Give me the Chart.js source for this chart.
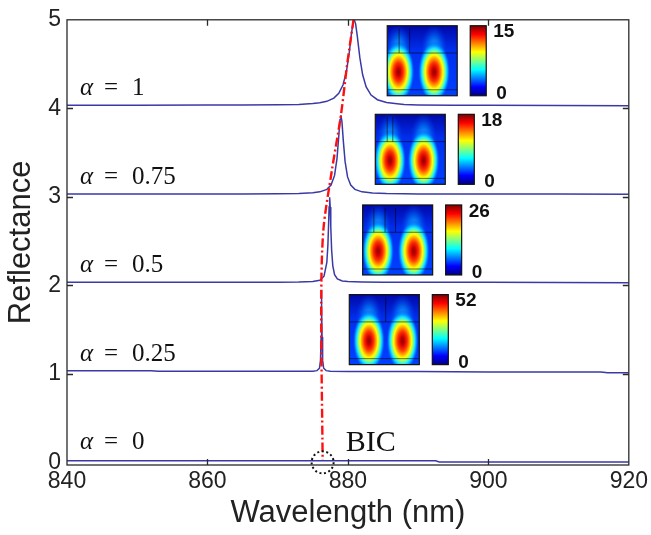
<!DOCTYPE html>
<html>
<head>
<meta charset="utf-8">
<script src="https://cdn.jsdelivr.net/npm/chart.js@4.4.1/dist/chart.umd.min.js"></script>
<style>
  html, body { margin: 0; padding: 0; background: #fff; }
</style>
</head>
<body>
<canvas id="reflChart" width="651" height="535"></canvas>
<script>
var xTicks = [840, 860, 880, 900, 920];
var yTicks = [0, 1, 2, 3, 4, 5];
var alphaLabels = ['1', '0.75', '0.5', '0.25', '0'];
var alphaOffsets = [4, 3, 2, 1, 0];

// alpha = 1
var lambda1 = [840, 850, 860, 865, 870, 873, 875, 876, 877, 878, 878.7, 879.3, 879.8, 880.2, 880.5, 880.75, 880.9, 881.1, 881.35, 881.7, 882.1, 882.6, 883.3, 884.2, 885.5, 887, 888, 890, 895, 900, 910, 920];
var refl1 = [4.035, 4.035, 4.036, 4.037, 4.04, 4.044, 4.053, 4.062, 4.079, 4.115, 4.169, 4.263, 4.419, 4.634, 4.84, 4.974, 5.0, 4.954, 4.806, 4.572, 4.379, 4.242, 4.15, 4.097, 4.066, 4.051, 4.042, 4.038, 4.035, 4.034, 4.033, 4.03];
// alpha = 0.75
var lambda2 = [840, 850, 860, 865, 870, 873, 875, 876, 877, 877.6, 878.1, 878.45, 878.7, 878.88, 879.0, 879.15, 879.35, 879.6, 879.95, 880.4, 881, 882, 883.5, 885.5, 888, 890, 895, 900, 910, 920];
var refl2 = [3.032, 3.032, 3.033, 3.033, 3.035, 3.038, 3.046, 3.056, 3.084, 3.133, 3.242, 3.435, 3.686, 3.874, 3.922, 3.849, 3.629, 3.397, 3.225, 3.133, 3.084, 3.056, 3.043, 3.037, 3.034, 3.033, 3.032, 3.032, 3.032, 3.03];
// alpha = 0.5
var lambda3 = [840, 850, 860, 865, 870, 873, 875, 876, 876.6, 877.0, 877.15, 877.25, 877.32, 877.4, 877.48, 877.56, 877.68, 877.85, 878.1, 878.5, 879.2, 880, 882, 885, 890, 900, 910, 920];
var refl3 = [2.035, 2.035, 2.035, 2.035, 2.036, 2.037, 2.043, 2.058, 2.103, 2.258, 2.454, 2.691, 2.884, 2.995, 2.884, 2.663, 2.402, 2.22, 2.121, 2.072, 2.049, 2.042, 2.038, 2.036, 2.035, 2.034, 2.033, 2.03];
// alpha = 0.25
var lambda4 = [840, 852, 853, 860, 870, 873, 875, 875.6, 875.95, 876.1, 876.18, 876.22, 876.25, 876.28, 876.32, 876.4, 876.55, 876.9, 877.5, 880, 890, 900, 916, 917, 920];
var refl4 = [1.034, 1.034, 1.028, 1.028, 1.028, 1.028, 1.03, 1.036, 1.063, 1.155, 1.417, 1.764, 1.948, 1.764, 1.417, 1.155, 1.063, 1.036, 1.03, 1.027, 1.025, 1.022, 1.02, 1.012, 1.012];
// alpha = 0 (BIC, no resonance)
var lambda5 = [840, 892.5, 893, 920];
var refl5 = [0.018, 0.018, 0.005, 0.005];

// red dash-dot guide through the peaks down to the BIC
var guideLambda = [880.8, 879.9, 879.0, 877.7, 876.5, 876.2, 876.4];
var guideRefl = [5.0, 4.5, 3.92, 3.29, 2.62, 1.8, 0.03];
var bicLambda = 876.4;
var bicRefl = 0;

// colorbar maxima of the field insets (top to bottom)
var fieldMax = [15, 18, 26, 52];

function zip(xs, ys) {
  return xs.map(function(x, i) { return { x: x, y: ys[i] }; });
}

var curveColor = '#3a3aa6';
var curves = [[lambda1, refl1], [lambda2, refl2], [lambda3, refl3], [lambda4, refl4], [lambda5, refl5]];
var datasets = [{
  data: zip(guideLambda, guideRefl),
  borderColor: '#ff1010',
  borderWidth: 2.4,
  borderDash: [9, 3, 2, 3],
  pointRadius: 0,
  showLine: true,
  tension: 0.3,
  order: 0
}];
curves.forEach(function(c) {
  datasets.push({
    data: zip(c[0], c[1]),
    borderColor: curveColor,
    borderWidth: 1.5,
    pointRadius: 0,
    showLine: true,
    tension: 0,
    order: 1
  });
});

// inset layout (anchor = top-left of the field map)
var insets = [
  { lambda: 885.6, refl: 4.933, lobes: [0.16, 0.67], cuts: [0.17, 0.32] },
  { lambda: 883.9, refl: 3.932, lobes: [0.21, 0.69], cuts: [0.17, 0.25] },
  { lambda: 882.1, refl: 2.908, lobes: [0.22, 0.73], cuts: [0.16, 0.32, 0.47] },
  { lambda: 880.2, refl: 1.895, lobes: [0.28, 0.76], cuts: [0.52] }
];

function ellipseGrad(ctx, cx, cy, rx, ry, stops) {
  ctx.save();
  ctx.translate(cx, cy);
  ctx.scale(rx, ry);
  var g = ctx.createRadialGradient(0, 0, 0, 0, 0, 1);
  stops.forEach(function(s) { g.addColorStop(s[0], s[1]); });
  ctx.fillStyle = g;
  ctx.beginPath();
  ctx.arc(0, 0, 1, 0, Math.PI * 2);
  ctx.fill();
  ctx.restore();
}

var lobeStops = [[0, '#8a0000'], [0.14, '#d00000'], [0.3, '#ff3000'], [0.44, '#ffa000'], [0.55, '#ffff00'],
  [0.65, '#a0ff60'], [0.75, '#20f0ff'], [0.86, '#0098ff'], [1, 'rgba(0,60,255,0)']];
var glowStops = [[0, 'rgba(60,200,255,0.95)'], [0.5, 'rgba(0,140,255,0.6)'], [1, 'rgba(0,60,255,0)']];

function drawInset(ctx, x, y, inset, maxVal) {
  var w = 70, h = 70;
  ctx.save();
  ctx.beginPath();
  ctx.rect(x, y, w, h);
  ctx.clip();
  var bg = ctx.createLinearGradient(0, y, 0, y + h);
  bg.addColorStop(0, '#0008a8');
  bg.addColorStop(0.35, '#0030ee');
  bg.addColorStop(1, '#0040ff');
  ctx.fillStyle = bg;
  ctx.fillRect(x, y, w, h);
  inset.lobes.forEach(function(f) {
    var cx = x + f * w;
    ellipseGrad(ctx, cx, y + 0.34 * h, 0.19 * w, 0.36 * h, glowStops);
    ellipseGrad(ctx, cx, y + 0.66 * h, 0.23 * w, 0.44 * h, lobeStops);
  });
  ctx.strokeStyle = 'rgba(0,0,0,0.55)';
  ctx.lineWidth = 1;
  ctx.beginPath();
  ctx.moveTo(x, y + 0.39 * h); ctx.lineTo(x + w, y + 0.39 * h);
  ctx.moveTo(x, y + 0.915 * h); ctx.lineTo(x + w, y + 0.915 * h);
  inset.cuts.forEach(function(f) {
    ctx.moveTo(x + f * w, y + 0.04 * h); ctx.lineTo(x + f * w, y + 0.39 * h);
  });
  ctx.stroke();
  ctx.restore();
  ctx.strokeStyle = '#111';
  ctx.lineWidth = 1.2;
  ctx.strokeRect(x, y, w, h);

  // colorbar
  var bx = x + w + 13, bw = 16;
  var jet = ctx.createLinearGradient(0, y, 0, y + h);
  jet.addColorStop(0, '#800000');
  jet.addColorStop(0.125, '#ff0000');
  jet.addColorStop(0.375, '#ffff00');
  jet.addColorStop(0.5, '#80ff80');
  jet.addColorStop(0.625, '#00ffff');
  jet.addColorStop(0.875, '#0000ff');
  jet.addColorStop(1, '#000080');
  ctx.fillStyle = jet;
  ctx.fillRect(bx, y, bw, h);
  ctx.strokeRect(bx, y, bw, h);

  ctx.fillStyle = '#111';
  ctx.font = 'bold 19px "Liberation Sans", Arial, sans-serif';
  ctx.textAlign = 'left';
  ctx.textBaseline = 'top';
  ctx.fillText(String(maxVal), bx + bw + 7, y - 3);
  ctx.textBaseline = 'alphabetic';
  ctx.fillText('0', bx + bw + 10, y + h + 3);
}

var annotations = {
  id: 'annotations',
  afterDatasetsDraw: function(chart) {
    var ctx = chart.ctx;
    var xs = chart.scales.x, ys = chart.scales.y;
    var area = chart.chartArea;

    // insets
    insets.forEach(function(inset, i) {
      drawInset(ctx, xs.getPixelForValue(inset.lambda), ys.getPixelForValue(inset.refl), inset, fieldMax[i]);
    });

    // box and inward ticks (MATLAB style)
    ctx.save();
    ctx.strokeStyle = '#2a2a2a';
    ctx.lineWidth = 1.3;
    ctx.strokeRect(area.left, area.top, area.right - area.left, area.bottom - area.top);
    ctx.beginPath();
    xTicks.slice(1, -1).forEach(function(v) {
      var px = Math.round(xs.getPixelForValue(v)) + 0.5;
      ctx.moveTo(px, area.bottom); ctx.lineTo(px, area.bottom - 6);
      ctx.moveTo(px, area.top); ctx.lineTo(px, area.top + 6);
    });
    yTicks.slice(1, -1).forEach(function(v) {
      var py = Math.round(ys.getPixelForValue(v)) + 0.5;
      ctx.moveTo(area.left, py); ctx.lineTo(area.left + 6, py);
      ctx.moveTo(area.right, py); ctx.lineTo(area.right - 6, py);
    });
    ctx.stroke();

    // alpha labels
    ctx.fillStyle = '#111';
    ctx.textBaseline = 'alphabetic';
    ctx.textAlign = 'left';
    alphaLabels.forEach(function(lab, i) {
      var py = ys.getPixelForValue(alphaOffsets[i] + 0.15);
      var px = area.left + 13;
      ctx.font = 'italic 25px "Liberation Serif", "Times New Roman", serif';
      ctx.fillText('\u03B1', px, py);
      ctx.font = '25px "Liberation Serif", "Times New Roman", serif';
      ctx.fillText('=', px + 24, py);
      ctx.fillText(lab, px + 52, py);
    });

    // BIC marker
    var cx = xs.getPixelForValue(bicLambda), cy = ys.getPixelForValue(bicRefl);
    ctx.strokeStyle = '#111';
    ctx.lineWidth = 2;
    ctx.setLineDash([2, 2.6]);
    ctx.beginPath();
    ctx.arc(cx, cy, 11, 0, Math.PI * 2);
    ctx.stroke();
    ctx.setLineDash([]);
    ctx.font = '30px "Liberation Serif", "Times New Roman", serif';
    ctx.fillText('BIC', xs.getPixelForValue(879.7), ys.getPixelForValue(0.13));
    ctx.restore();
  }
};

var tickFont = { family: '"Liberation Sans", Arial, sans-serif', size: 23 };
var titleFont = { family: '"Liberation Sans", Arial, sans-serif', size: 31 };

new Chart(document.getElementById('reflChart'), {
  type: 'scatter',
  data: { datasets: datasets },
  options: {
    responsive: false,
    animation: false,
    devicePixelRatio: 1,
    layout: { padding: { left: 0, right: 19, top: 13, bottom: 0 } },
    plugins: { legend: { display: false }, tooltip: { enabled: false } },
    scales: {
      x: {
        type: 'linear',
        min: 840,
        max: 920,
        afterBuildTicks: function(scale) { scale.ticks = xTicks.map(function(v) { return { value: v }; }); },
        afterFit: function(scale) { scale.height = 70; },
        grid: { display: false, drawTicks: false },
        border: { display: false },
        ticks: { font: tickFont, color: '#222', padding: 3, maxRotation: 0 },
        title: { display: true, text: 'Wavelength (nm)', font: titleFont, color: '#222', padding: { top: 3, bottom: 3 } }
      },
      y: {
        type: 'linear',
        min: -0.03,
        max: 5,
        afterBuildTicks: function(scale) { scale.ticks = yTicks.map(function(v) { return { value: v }; }); },
        afterFit: function(scale) { scale.width = 67; },
        grid: { display: false, drawTicks: false },
        border: { display: false },
        ticks: { font: tickFont, color: '#222', padding: 6 },
        title: { display: true, text: 'Reflectance', font: titleFont, color: '#222', padding: { top: 3, bottom: 3 } }
      }
    }
  },
  plugins: [annotations]
});
</script>
</body>
</html>
